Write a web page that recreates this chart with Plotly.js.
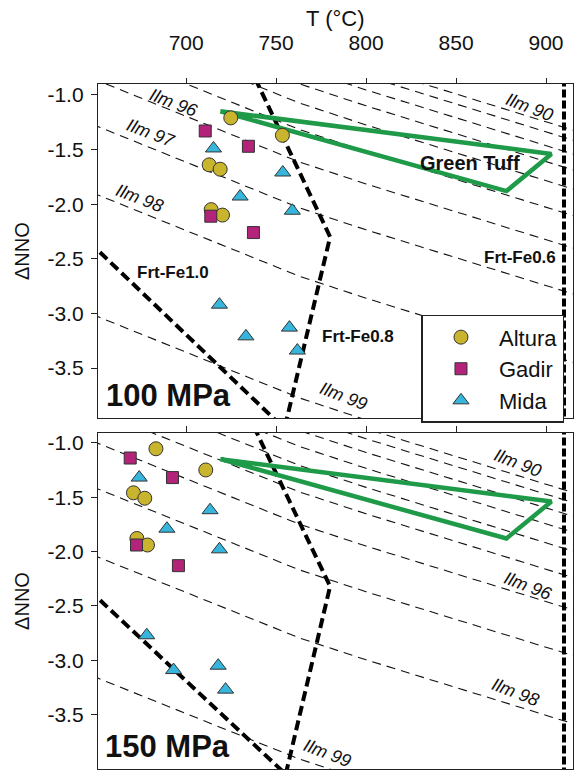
<!DOCTYPE html>
<html>
<head>
<meta charset="utf-8">
<script src="https://cdn.plot.ly/plotly-3.0.1.min.js"></script>
<style>html,body{margin:0;padding:0;background:#fff}#chart{width:575px;height:771px}</style>
</head>
<body>
<div id="chart"></div>
<script>
// ---------------- data ----------------
const xTicks = [700, 750, 800, 850, 900];
const yTickVals = [-1.0, -1.5, -2.0, -2.5, -3.0, -3.5];
const yTickText = ['-1.0', '-1.5', '-2.0', '-2.5', '-3.0', '-3.5'];

// 100 MPa samples
const alturaT100 = [724.8, 753.5, 712.8, 718.9, 713.9, 720.2];
const alturaY100 = [-1.21, -1.37, -1.64, -1.68, -2.05, -2.10];
const gadirT100 = [710.6, 734.6, 713.7, 737.4];
const gadirY100 = [-1.33, -1.47, -2.11, -2.26];
const midaT100 = [715.2, 753.7, 730.0, 759.0, 718.5, 733.2, 757.4, 761.8];
const midaY100 = [-1.49, -1.71, -1.93, -2.06, -2.92, -3.21, -3.13, -3.34];

// 150 MPa samples
const alturaT150 = [683.2, 710.9, 670.7, 677.0, 672.6, 678.5];
const alturaY150 = [-1.055, -1.25, -1.46, -1.51, -1.88, -1.94];
const gadirT150 = [668.9, 692.4, 672.4, 695.7];
const gadirY150 = [-1.14, -1.32, -1.94, -2.13];
const midaT150 = [673.9, 713.3, 689.3, 718.5, 678.1, 693.0, 717.8, 721.9];
const midaY150 = [-1.32, -1.62, -1.79, -1.98, -2.77, -3.09, -3.05, -3.27];

// Green Tuff field (same in both panels)
const tuffT = [719, 903, 878, 719];
const tuffY = [-1.15, -1.54, -1.88, -1.15];

// Ilmenite isopleths (Ilm 90 ... Ilm 99), Y read at these temperatures
const ilmT = [640, 700, 763, 800, 920];
const ilmY100 = [
  [0.282, -0.116, -0.535, -0.736, -1.348],
  [0.190, -0.208, -0.627, -0.828, -1.440],
  [0.064, -0.334, -0.753, -0.954, -1.566],
  [-0.082, -0.480, -0.899, -1.100, -1.712],
  [-0.257, -0.655, -1.074, -1.275, -1.887],
  [-0.500, -0.898, -1.317, -1.518, -2.130],
  [-0.797, -1.195, -1.614, -1.815, -2.427],
  [-1.217, -1.615, -2.034, -2.235, -2.847],
  [-1.843, -2.241, -2.660, -2.861, -3.473],
  [-2.957, -3.355, -3.774, -3.975, -4.587]
];
const ilmY150 = [
  [0.147, -0.251, -0.670, -0.871, -1.483],
  [0.055, -0.343, -0.762, -0.963, -1.575],
  [-0.071, -0.469, -0.888, -1.089, -1.701],
  [-0.217, -0.615, -1.034, -1.235, -1.847],
  [-0.392, -0.790, -1.209, -1.410, -2.022],
  [-0.635, -1.033, -1.452, -1.653, -2.265],
  [-0.932, -1.330, -1.749, -1.950, -2.562],
  [-1.352, -1.750, -2.169, -2.370, -2.982],
  [-1.978, -2.376, -2.795, -2.996, -3.608],
  [-3.092, -3.490, -3.909, -4.110, -4.722]
];

// Ferrite (Frt) boundaries
const frt10T = [640, 760];
const frt10Y100 = [-2.25, -4.14];
const frt10Y150 = [-2.26, -4.12];
const frtBendT100 = [738.4, 780, 754.0];
const frtBendY100 = [-0.85, -2.30, -4.10];
const frtBendT150 = [737.6, 780, 754.6];
const frtBendY150 = [-0.85, -2.32, -4.10];
const frt06T = [910, 910];
const frt06Y = [-0.85, -4.10];

// labels
const ilmLabels100 = ['Ilm 96', 'Ilm 97', 'Ilm 98', 'Ilm 90', 'Ilm 99'];
const ilmLabT100 = [693.3, 680.4, 673.9, 890.6, 787.2];
const ilmLabY100 = [-1.07, -1.345, -1.946, -1.11, -3.76];
const ilmLabels150 = ['Ilm 90', 'Ilm 96', 'Ilm 98', 'Ilm 99'];
const ilmLabT150 = [884.4, 890.0, 882.8, 778.3];
const ilmLabY150 = [-1.19, -2.32, -3.29, -3.85];
const frtLabels = ['Frt-Fe1.0', 'Frt-Fe0.8', 'Frt-Fe0.6'];
const frtLabT = [692.8, 795.3, 885.6];
const frtLabY = [-2.63, -3.21, -2.49];

// ---------------- styling ----------------
const FONT = 'Liberation Sans, Arial, sans-serif';
const C_ALT = '#c9b42e', C_GAD = '#b3237a', C_MID = '#36b6dc', C_TUFF = '#1e9a48';
const EDGE = {color: '#333', width: 1};

const traces = [];
function ilmTraces(ys, xa, ya) {
  ys.forEach(function (y) {
    traces.push({x: ilmT, y: y, xaxis: xa, yaxis: ya, mode: 'lines', showlegend: false, hoverinfo: 'skip',
      line: {color: '#111', width: 1.1, dash: '9px,6px'}});
  });
}
ilmTraces(ilmY100, 'x', 'y');
ilmTraces(ilmY150, 'x2', 'y2');

function thick(x, y, xa, ya, dash) {
  traces.push({x: x, y: y, xaxis: xa, yaxis: ya, mode: 'lines', showlegend: false, hoverinfo: 'skip',
    line: {color: '#000', width: 4, dash: dash}});
}
thick(frt10T, frt10Y100, 'x', 'y', '10px,5px');
thick(frtBendT100, frtBendY100, 'x', 'y', '10px,5px');
thick(frt06T, frt06Y, 'x', 'y', '8px,3px');
thick(frt10T, frt10Y150, 'x2', 'y2', '10px,5px');
thick(frtBendT150, frtBendY150, 'x2', 'y2', '10px,5px');
thick(frt06T, frt06Y, 'x2', 'y2', '8px,3px');

['x', 'x2'].forEach(function (xa, i) {
  traces.push({x: tuffT, y: tuffY, xaxis: xa, yaxis: i ? 'y2' : 'y', mode: 'lines', showlegend: false,
    hoverinfo: 'skip', line: {color: C_TUFF, width: 4.5}});
});

function pts(x, y, xa, ya, name, sym, col, size, show) {
  traces.push({x: x, y: y, xaxis: xa, yaxis: ya, mode: 'markers', name: name, legendgroup: name,
    showlegend: show, marker: {symbol: sym, color: col, size: size, line: EDGE}});
}
pts(alturaT100, alturaY100, 'x', 'y', 'Altura', 'circle', C_ALT, 14, true);
pts(gadirT100, gadirY100, 'x', 'y', 'Gadir', 'square', C_GAD, 12, true);
pts(midaT100, midaY100, 'x', 'y', 'Mida', 'triangle-up', C_MID, 14, true);
pts(alturaT150, alturaY150, 'x2', 'y2', 'Altura', 'circle', C_ALT, 14, false);
pts(gadirT150, gadirY150, 'x2', 'y2', 'Gadir', 'square', C_GAD, 12, false);
pts(midaT150, midaY150, 'x2', 'y2', 'Mida', 'triangle-up', C_MID, 14, false);

// ---------------- annotations ----------------
const ann = [];
ilmLabels100.forEach(function (t, i) {
  ann.push({x: ilmLabT100[i], y: ilmLabY100[i], xref: 'x', yref: 'y', text: '<i>' + t + '</i>', showarrow: false,
    textangle: 21, font: {size: 18, color: '#111'}});
});
ilmLabels150.forEach(function (t, i) {
  ann.push({x: ilmLabT150[i], y: ilmLabY150[i], xref: 'x2', yref: 'y2', text: '<i>' + t + '</i>', showarrow: false,
    textangle: 21, font: {size: 18, color: '#111'}});
});
frtLabels.forEach(function (t, i) {
  ann.push({x: frtLabT[i], y: frtLabY[i], xref: 'x', yref: 'y', text: '<b>' + t + '</b>', showarrow: false,
    font: {size: 17, color: '#111'}});
});
ann.push({x: 857.8, y: -1.62, xref: 'x', yref: 'y', text: '<b>Green Tuff</b>', showarrow: false,
  font: {size: 20, color: '#111'}});
ann.push({x: 0.012, y: 0.01, xref: 'x domain', yref: 'y domain', xanchor: 'left', yanchor: 'bottom',
  text: '<b>100 MPa</b>', showarrow: false, font: {size: 31, color: '#111'}});
ann.push({x: 0.010, y: 0.01, xref: 'x2 domain', yref: 'y2 domain', xanchor: 'left', yanchor: 'bottom',
  text: '<b>150 MPa</b>', showarrow: false, font: {size: 31, color: '#111'}});
// x-axis title placed precisely above the tick labels
ann.push({x: 0.5, y: 1.0963, xref: 'paper', yref: 'paper', xanchor: 'center', yanchor: 'middle',
  text: 'T (°C)', showarrow: false, font: {size: 22, color: '#111'}});

const axCommon = {showline: true, mirror: true, linecolor: '#222', linewidth: 1.2, showgrid: false,
  zeroline: false, ticks: 'outside', tickcolor: '#222'};

const layout = {
  width: 575, height: 771,
  margin: {l: 98, r: 2, t: 84, b: 2, pad: 0},
  paper_bgcolor: '#fff', plot_bgcolor: '#fff',
  font: {family: FONT, size: 21, color: '#111'},
  showlegend: true,
  legend: {x: 0.681, y: 0.663, xanchor: 'left', yanchor: 'top', bgcolor: '#fff', bordercolor: '#222',
    borderwidth: 1.5, font: {size: 22}, itemwidth: 66, tracegroupgap: 0},
  xaxis: Object.assign({}, axCommon, {domain: [0, 1], anchor: 'y', side: 'top', range: [651, 915],
    tickvals: xTicks, ticklen: 5, ticklabelstandoff: 19}),
  yaxis: Object.assign({}, axCommon, {domain: [0.512, 1], anchor: 'x', range: [-3.96, -0.9],
    tickvals: yTickVals, ticktext: yTickText, ticklen: 6, ticklabelstandoff: 3,
    title: {text: 'ΔNNO', font: {size: 20}, standoff: 12}}),
  xaxis2: Object.assign({}, axCommon, {domain: [0, 1], anchor: 'y2', side: 'top', range: [651, 915],
    tickvals: xTicks, ticklen: 6, showticklabels: false}),
  yaxis2: Object.assign({}, axCommon, {domain: [0, 0.4905], anchor: 'x2', range: [-4.0, -0.91],
    tickvals: yTickVals, ticktext: yTickText, ticklen: 6, ticklabelstandoff: 3,
    title: {text: 'ΔNNO', font: {size: 20}, standoff: 12}}),
  annotations: ann
};

Plotly.newPlot('chart', traces, layout, {displayModeBar: false, staticPlot: true});
</script>
</body>
</html>
